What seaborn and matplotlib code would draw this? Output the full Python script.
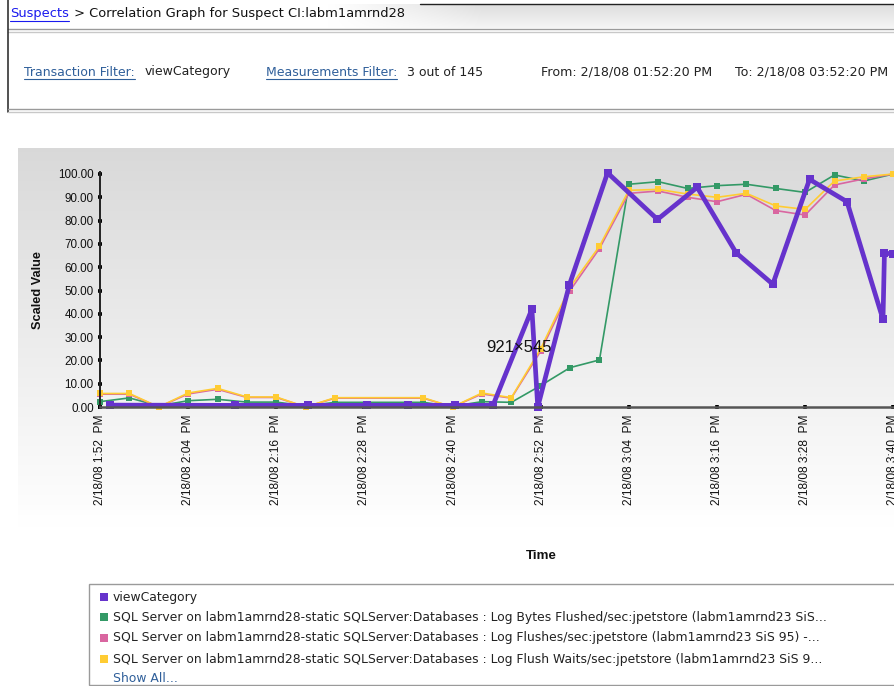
import numpy as np
import pandas as pd
import matplotlib
matplotlib.use("Agg")
import matplotlib.pyplot as plt
import seaborn as sns
from matplotlib.lines import Line2D
from matplotlib.patches import Rectangle

# ---------------- data ----------------
# minutes after 2/18/08 1:52 PM
sql_minutes = [0, 4, 8, 12, 16, 20, 24, 28, 32, 36, 40, 44, 48, 52, 56, 60, 64, 68,
               72, 76, 80, 84, 88, 92, 96, 100, 104, 108]
log_bytes_flushed = [2.3, 3.9, 0.5, 2.7, 3.3, 2.1, 2.1, 0.5, 2.0, None, None, 2.0, 0.3, 2.3,
                     2.0, 9.2, 16.9, 20.2, 95.6, 96.7, 93.8, 95.0, 95.6, 93.8, 92.1, 99.6, 97.0, 100.0]
log_flushes = [5.5, 5.5, 0.0, 5.6, 7.6, 4.1, 4.1, 0.0, 3.8, None, None, 3.8, 0.0, 5.6,
               3.8, 24.0, 50.0, 68.0, 91.7, 92.7, 90.0, 88.1, 91.3, 84.3, 82.4, 95.3, 97.9, 100.0]
log_flush_waits = [5.8, 5.8, 0.0, 6.0, 8.0, 4.3, 4.3, 0.0, 4.0, None, None, 4.0, 0.0, 6.0,
                   4.0, 25.0, 51.5, 69.0, 93.0, 93.4, 91.4, 90.0, 91.7, 86.3, 84.8, 97.0, 98.8, 100.0]
view_minutes = [1.4, 18.4, 28.3, 36.4, 41.9, 48.3, 53.5, 58.8, 59.6, 63.9, 69.1, 75.9,
                81.3, 86.6, 91.6, 96.6, 101.7, 106.6, 106.8, 108.0]
view_category = [0.8, 0.7, 0.7, 0.7, 0.7, 0.7, 0.7, 42.0, 0.0, 52.4, 100.5, 80.5,
                 94.3, 66.2, 52.7, 97.7, 88.1, 37.6, 66.2, 65.5]

series_names = [
    "viewCategory",
    "SQL Server on labm1amrnd28-static SQLServer:Databases : Log Bytes Flushed/sec:jpetstore (labm1amrnd23 SiS...",
    "SQL Server on labm1amrnd28-static SQLServer:Databases : Log Flushes/sec:jpetstore (labm1amrnd23 SiS 95) -...",
    "SQL Server on labm1amrnd28-static SQLServer:Databases : Log Flush Waits/sec:jpetstore (labm1amrnd23 SiS 9...",
]
series_colors = ["#6633CC", "#339966", "#D966A0", "#FFCC33"]

x_tick_minutes = [0, 12, 24, 36, 48, 60, 72, 84, 96, 108]
x_tick_labels = ["2/18/08 1:52  PM", "2/18/08 2:04  PM", "2/18/08 2:16  PM", "2/18/08 2:28  PM",
                 "2/18/08 2:40  PM", "2/18/08 2:52  PM", "2/18/08 3:04  PM", "2/18/08 3:16  PM",
                 "2/18/08 3:28  PM", "2/18/08 3:40  PM"]
y_ticks = [0, 10, 20, 30, 40, 50, 60, 70, 80, 90, 100]

# ---------------- figure ----------------
W, H = 894, 686
sns.set_theme(style="white")
plt.rcParams["font.family"] = ["DejaVu Sans"]
fig = plt.figure(figsize=(W / 100, H / 100), dpi=100)
fig.patch.set_facecolor("white")


def fx(x):
    return x / W


def fy(y):
    return 1 - y / H


def hline(x0, x1, y, color, lw=1.0):
    fig.add_artist(Line2D([fx(x0), fx(x1)], [fy(y), fy(y)], color=color, lw=lw))


def vline(x, y0, y1, color, lw=1.0):
    fig.add_artist(Line2D([fx(x), fx(x)], [fy(y0), fy(y1)], color=color, lw=lw))


renderer = fig.canvas.get_renderer()


def text(x, y, s, color="#222222", size=9.0, underline=False, family="DejaVu Sans", **kw):
    t = fig.text(fx(x), fy(y), s, color=color, fontsize=size, va="center", ha="left",
                 family=family, **kw)
    if underline:
        bb = t.get_window_extent(renderer)
        hline(bb.x0, bb.x1, y + 7, color, lw=0.8)
    return t


# header bar: gradient that fades in towards the right
hdr = fig.add_axes([fx(8), fy(28), fx(894 - 8), (28 - 4) / H], zorder=-5)
xs = np.linspace(8, 894, 300)
ys = np.linspace(0, 1, 60)
ax_fade = np.clip((xs - 330) / 150, 0, 1)[None, :]
y_fade = (0.13 - 0.09 * ys)[:, None]
hshade = 1 - ax_fade * y_fade
hdr.imshow(np.dstack([hshade] * 3), aspect="auto", extent=[0, 1, 0, 1])
hdr.axis("off")
hline(420, 894, 4, "#222222", 1.0)
hline(8, 894, 29, "#9a9a9a", 1.0)
hline(8, 894, 32, "#c8c8c8", 1.0)
vline(7.5, 0, 112, "#333333", 1.2)
hline(8, 894, 109, "#9a9a9a", 1.0)
hline(8, 894, 111.5, "#c8c8c8", 1.0)

# title
t = text(10, 14, "Suspects", color="#1a1aee", size=9.4, underline=True)
bb = t.get_window_extent(renderer)
text(bb.x1 + 1, 14, " > Correlation Graph for Suspect CI:labm1amrnd28", color="#111111", size=9.4)

# filter row
link_col = "#2F5F9A"
text(24, 72, "Transaction Filter:", color=link_col, underline=True, size=9.0)
text(145, 72, "viewCategory", size=9.0)
text(266, 72, "Measurements Filter:", color=link_col, underline=True, size=9.0)
text(407, 72, "3 out of 145", size=9.0)
text(541, 72, "From: 2/18/08 01:52:20 PM", size=9.1)
text(735, 72, "To: 2/18/08 03:52:20 PM", size=9.1)

# chart panel gradient background
bg = fig.add_axes([fx(18), fy(582), fx(894 - 18), (582 - 148) / H], zorder=-5)
g = np.linspace(0.0, 1.0, 200)[:, None] * np.ones((1, 10))
shade = 0.85 + 0.15 * np.clip(g * 1.15, 0, 1)
bg.imshow(np.dstack([shade] * 3), aspect="auto", extent=[0, 1, 0, 1])
bg.axis("off")

# main axes
ax_top = 172
ax = fig.add_axes([fx(100), fy(407), fx(894 - 100), (407 - ax_top) / H])
ax.patch.set_alpha(0)
sql_df = pd.DataFrame({
    "minutes": sql_minutes,
    series_names[1]: log_bytes_flushed,
    series_names[2]: log_flushes,
    series_names[3]: log_flush_waits,
})
for name, col in zip(series_names[1:], series_colors[1:]):
    sub = sql_df[["minutes", name]].dropna()
    sns.lineplot(x=sub["minutes"], y=sub[name], ax=ax, color=col, lw=1.2, marker="s",
                 markersize=5, markeredgewidth=0, clip_on=False,
                 estimator=None, sort=False, legend=False)
view_df = pd.DataFrame({"minutes": view_minutes, "value": view_category})
sns.lineplot(data=view_df, x="minutes", y="value", ax=ax, color=series_colors[0], lw=3.4,
             marker="s", markersize=5.5, markeredgewidth=0, clip_on=False,
             estimator=None, sort=False, legend=False)

ax.set_xlim(0, 108.1)
ax.set_ylim(0, (407 - ax_top) / 2.33)
ax.set_yticks(y_ticks)
ax.set_yticklabels([f"{v:.2f}" for v in y_ticks], family="Liberation Sans", fontsize=8.4,
                   color="#111111")
ax.set_xticks(x_tick_minutes)
ax.set_xticklabels(x_tick_labels, rotation=90, family="Liberation Sans", fontsize=8.6,
                   color="#111111", va="top")
ax.tick_params(axis="both", direction="inout", length=3, width=2.6, color="black", pad=3,
               left=True, bottom=True)
ax.tick_params(axis="x", pad=4)
ax.set_xlabel("")
ax.set_ylabel("")
for s in ["top", "right"]:
    ax.spines[s].set_visible(False)
ax.spines["left"].set_color("#222222")
ax.spines["left"].set_linewidth(1.4)
ax.spines["bottom"].set_color("#555555")
ax.spines["bottom"].set_linewidth(1.8)
ax.grid(False)

fig.text(fx(38), fy(290), "Scaled Value", rotation=90, ha="center", va="center",
         family="Liberation Sans", fontsize=9.2, fontweight="bold", color="#111111")
fig.text(fx(541), fy(556), "Time", ha="center", va="center", family="Liberation Sans",
         fontsize=9.6, fontweight="bold", color="#111111")
fig.text(fx(519), fy(348), "921\u00d7545", ha="center", va="center", family="Liberation Sans",
         fontsize=12, color="#111111")

# legend box
fig.add_artist(Rectangle((fx(89), fy(685)), fx(894 - 89) + 0.01, (685 - 584) / H,
                         transform=fig.transFigure, facecolor="white",
                         edgecolor="#9a9a9a", lw=1.0, zorder=-4))
legend_rows = [597, 617, 638, 659]
for yy, name, col in zip(legend_rows, series_names, series_colors):
    fig.add_artist(Rectangle((fx(100), fy(yy + 4)), 8 / W, 8 / H, transform=fig.transFigure,
                             facecolor=col, edgecolor="none"))
    text(113, yy, name, size=8.9, color="#222222")
text(113, 678, "Show All...", size=8.9, color=link_col)

fig.savefig("out.png", dpi=100)
